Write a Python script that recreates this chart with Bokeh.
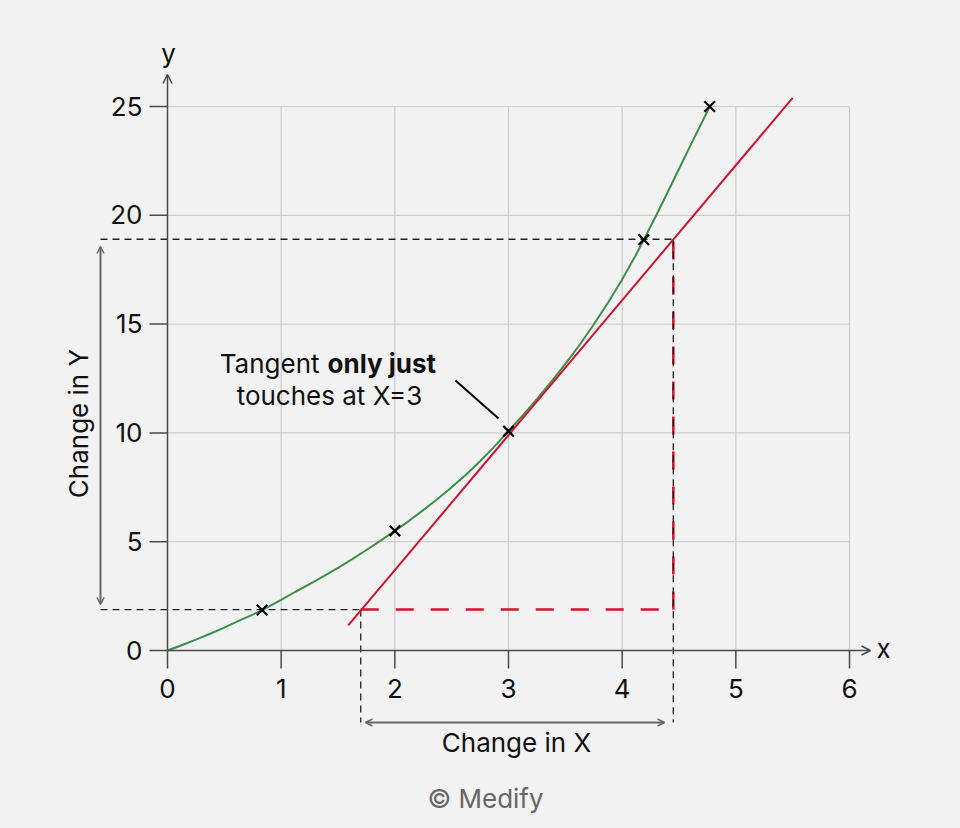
from bokeh.plotting import figure
from bokeh.models import Range1d, Arrow, OpenHead
from bokeh.core.properties import value
from bokeh.embed import file_html
from bokeh.resources import INLINE
import math

# green curve
curve_x = [0, 0.125, 0.25, 0.375, 0.5, 0.625, 0.75, 0.833, 1.0, 1.125, 1.25, 1.375, 1.5, 1.625, 1.75, 1.875,
           2.0, 2.125, 2.25, 2.375, 2.5, 2.625, 2.75, 2.875, 3.0, 3.125, 3.25, 3.375,
           3.5, 3.625, 3.75, 3.875, 4.0, 4.125, 4.19, 4.3, 4.4, 4.5, 4.6, 4.7, 4.77]
curve_y = [0, 0.24, 0.5, 0.77, 1.05, 1.36, 1.65, 1.86, 2.33, 2.7, 3.05, 3.42, 3.8, 4.2, 4.62, 5.05,
           5.5, 5.96, 6.45, 6.96, 7.5, 8.08, 8.7, 9.37, 10.08, 10.8, 11.55, 12.34,
           13.17, 14.04, 14.98, 15.98, 17.05, 18.22, 18.88, 20.0, 21.06, 22.13, 23.2, 24.25, 25.0]

# the x marks on the curve
mark_x = [0.833, 2.0, 3.0, 4.19, 4.77]
mark_y = [1.86, 5.5, 10.08, 18.88, 25.0]

# tangent line at x=3
tangent_x = [1.59, 5.5]
tangent_y = [1.15, 25.4]

# corners of the change-in-x / change-in-y triangle
change_x = [1.70, 4.45]
change_y = [1.88, 18.9]

x_ticks = [0, 1, 2, 3, 4, 5, 6]
y_ticks = [0, 5, 10, 15, 20, 25]

FONT = "Inter"
FS = "26px"
BG = "#f2f2f2"
GREEN = "#3b8f4a"
RED = "#d2122e"
AXIS = "#4a4a4a"
GRAY = "#666666"
INK = "#111111"

# page pixel geometry of the original chart
px_x = 682 / 6
px_y = 544 / 25
ox, oy = 167, 650
LIFT = 9.5  # svg baseline sits a little low, pull texts up


def dx(px):
    return (px - ox) / px_x


def dy(px):
    return (oy - px) / px_y


def ty(px):
    return dy(px - LIFT)


W, H = 960, 828
p = figure(width=W, height=H,
           x_range=Range1d(dx(0), dx(W)), y_range=Range1d(dy(H), dy(0)),
           x_axis_type=None, y_axis_type=None, min_border=0,
           output_backend="svg", toolbar_location=None, tools="",
           background_fill_color=BG, border_fill_color=BG, outline_line_color=None)

# grid
p.segment(x0=x_ticks[1:], y0=0, x1=x_ticks[1:], y1=y_ticks[-1], line_color="#cccccc", line_width=1.2)
p.segment(x0=0, y0=y_ticks[1:], x1=x_ticks[-1], y1=y_ticks[1:], line_color="#cccccc", line_width=1.2)

# red dashed legs of the triangle
p.segment(x0=[change_x[0], change_x[1]], y0=[change_y[0], change_y[0]],
          x1=[change_x[1], change_x[1]], y1=[change_y[0], change_y[1]],
          line_color=RED, line_width=2.5, line_dash="18 17")

# black dashed guides
left = dx(100)
bottom = dy(722)
p.segment(x0=[left, left, change_x[0], change_x[1]],
          y0=[change_y[1], change_y[0], change_y[0], change_y[1]],
          x1=[change_x[1], change_x[0], change_x[0], change_x[1]],
          y1=[change_y[1], change_y[0], bottom, bottom],
          line_color="#222222", line_width=1.3, line_dash="7 5")

# curve and tangent
p.line(curve_x, curve_y, line_color=GREEN, line_width=2)
p.line(tangent_x, tangent_y, line_color=RED, line_width=2)
p.scatter(mark_x, mark_y, marker="x", size=15, line_color="black", line_width=2.2)

# axes with arrow heads
p.add_layout(Arrow(end=OpenHead(size=9, line_color=AXIS, line_width=1.5),
                   x_start=0, y_start=0, x_end=dx(870), y_end=0, line_color=AXIS, line_width=1.5))
p.add_layout(Arrow(end=OpenHead(size=9, line_color=AXIS, line_width=1.5),
                   x_start=0, y_start=0, x_end=0, y_end=dy(74), line_color=AXIS, line_width=1.5))
p.segment(x0=x_ticks, y0=0, x1=x_ticks, y1=dy(668), line_color=AXIS, line_width=1.5)
p.segment(x0=dx(149), y0=y_ticks, x1=0, y1=y_ticks, line_color=AXIS, line_width=1.5)

p.text(x=x_ticks, y=ty(697), text=[str(t) for t in x_ticks], text_align="center",
       text_baseline="alphabetic", text_font=value(FONT), text_font_size=FS, text_color=INK)
p.text(x=dx(142), y=[t - (9 - LIFT) / px_y for t in y_ticks], text=[str(t) for t in y_ticks],
       text_align="right", text_baseline="alphabetic", text_font=value(FONT), text_font_size=FS,
       text_color=INK)
p.text(x=[dx(876)], y=[ty(657)], text=["x"], text_align="left", text_baseline="alphabetic",
       text_font=value(FONT), text_font_size=FS, text_color=INK)
p.text(x=[dx(168)], y=[ty(62)], text=["y"], text_align="center", text_baseline="alphabetic",
       text_font=value(FONT), text_font_size=FS, text_color=INK)

# change arrows
for xs, ys, xe, ye in [(left, dy(604), left, dy(246)), (dx(365), bottom, dx(664), bottom)]:
    p.add_layout(Arrow(start=OpenHead(size=7, line_color=GRAY, line_width=1.5),
                       end=OpenHead(size=7, line_color=GRAY, line_width=1.5),
                       x_start=xs, y_start=ys, x_end=xe, y_end=ye, line_color=GRAY, line_width=2))

p.text(x=[dx(87 - LIFT)], y=[dy(423)], text=["Change in Y"], angle=math.pi / 2, text_align="center",
       text_baseline="alphabetic", text_font=value(FONT), text_font_size=FS, text_color=INK)
p.text(x=[dx(516)], y=[ty(751)], text=["Change in X"], text_align="center",
       text_baseline="alphabetic", text_font=value(FONT), text_font_size=FS, text_color=INK)
p.text(x=[dx(485)], y=[ty(807)], text=["© Medify"], text_align="center",
       text_baseline="alphabetic", text_font=value(FONT), text_font_size=FS, text_color=GRAY)

# annotation
p.text(x=[dx(319)], y=[ty(372)], text=["Tangent"], text_align="right", text_baseline="alphabetic",
       text_font=value(FONT), text_font_size=FS, text_color=INK)
p.text(x=[dx(327)], y=[ty(372)], text=["only just"], text_align="left", text_baseline="alphabetic",
       text_font=value(FONT), text_font_size=FS, text_font_style="bold", text_color=INK)
p.text(x=[dx(329)], y=[ty(404)], text=["touches at X=3"], text_align="center", text_baseline="alphabetic",
       text_font=value(FONT), text_font_size=FS, text_color=INK)
p.segment(x0=[dx(455)], y0=[dy(380)], x1=[dx(498)], y1=[dy(418)], line_color="black", line_width=2)

html = file_html(p, INLINE, title="Tangent")
html = html.replace("<body>", '<body style="margin:0;background:%s">' % BG)
open("out.html", "w").write(html)
